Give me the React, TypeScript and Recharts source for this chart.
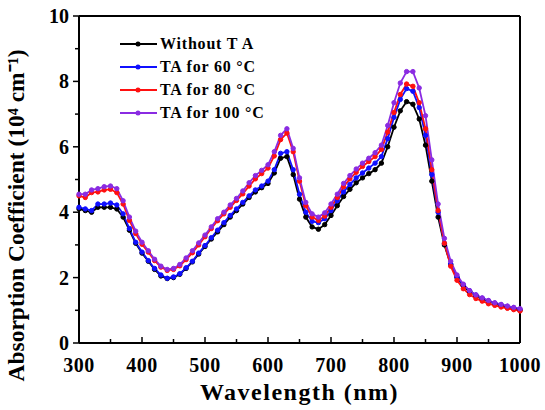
import { LineChart, Line, XAxis, YAxis, ReferenceLine } from "recharts";

const wavelengths = [
	300, 310, 320, 330, 340, 350, 360, 370, 380, 390, 400, 410, 420, 430, 440, 450, 460, 470, 480, 490, 500, 510, 520,
	530, 540, 550, 560, 570, 580, 590, 600, 610, 620, 630, 640, 650, 660, 670, 680, 690, 700, 710, 720, 730, 740, 750,
	760, 770, 780, 790, 800, 810, 820, 830, 840, 850, 860, 870, 880, 890, 900, 910, 920, 930, 940, 950, 960, 970, 980,
	990, 1000,
];

const withoutTA = [
	4.1, 4.05, 4.0, 4.15, 4.15, 4.15, 4.1, 3.85, 3.45, 3.05, 2.75, 2.5, 2.25, 2.05, 1.97, 2.0, 2.1, 2.28, 2.48, 2.72, 2.95,
	3.18, 3.4, 3.62, 3.85, 4.05, 4.25, 4.45, 4.62, 4.75, 4.88, 5.2, 5.65, 5.7, 5.15, 4.4, 3.85, 3.55, 3.48, 3.62, 3.9, 4.2,
	4.48, 4.7, 4.9, 5.05, 5.18, 5.3, 5.5, 6.0, 6.6, 7.1, 7.38, 7.3, 6.85, 6.05, 4.95, 3.85, 3.0, 2.4, 2.0, 1.75, 1.57,
	1.45, 1.35, 1.27, 1.2, 1.15, 1.1, 1.05, 1.0,
];

const ta60 = [
	4.15, 4.1, 4.05, 4.25, 4.25, 4.28, 4.22, 3.95, 3.5, 3.08, 2.78, 2.52, 2.28, 2.08, 1.98, 2.02, 2.12, 2.3, 2.5, 2.75,
	2.98, 3.22, 3.45, 3.68, 3.9, 4.1, 4.3, 4.5, 4.68, 4.8, 4.95, 5.3, 5.8, 5.85, 5.3, 4.55, 4.0, 3.72, 3.68, 3.8, 4.05,
	4.35, 4.62, 4.85, 5.05, 5.2, 5.35, 5.5, 5.7, 6.25, 6.9, 7.45, 7.78, 7.7, 7.2, 6.35, 5.15, 4.0, 3.05, 2.42, 2.02, 1.78,
	1.6, 1.47, 1.37, 1.29, 1.22, 1.17, 1.12, 1.08, 1.03,
];

const ta80 = [
	4.5, 4.45, 4.6, 4.62, 4.68, 4.7, 4.6, 4.25, 3.75, 3.35, 3.02, 2.78, 2.52, 2.32, 2.22, 2.25, 2.36, 2.55, 2.76, 3.0,
	3.25, 3.5, 3.74, 3.95, 4.15, 4.36, 4.56, 4.8, 5.02, 5.18, 5.35, 5.72, 6.22, 6.42, 5.85, 4.95, 4.2, 3.85, 3.75, 3.88,
	4.15, 4.45, 4.78, 5.02, 5.22, 5.4, 5.55, 5.7, 5.92, 6.45, 7.05, 7.6, 7.92, 7.85, 7.35, 6.55, 5.3, 4.05, 3.05, 2.35,
	1.92, 1.66, 1.48, 1.36, 1.28, 1.2, 1.15, 1.1, 1.06, 1.02, 0.98,
];

const ta100 = [
	4.55, 4.55, 4.68, 4.72, 4.78, 4.8, 4.72, 4.35, 3.85, 3.42, 3.08, 2.82, 2.56, 2.35, 2.25, 2.28, 2.4, 2.6, 2.82, 3.06,
	3.3, 3.55, 3.8, 4.0, 4.22, 4.42, 4.65, 4.9, 5.12, 5.28, 5.45, 5.85, 6.35, 6.55, 5.95, 5.05, 4.3, 3.95, 3.85, 3.98,
	4.25, 4.55, 4.88, 5.12, 5.32, 5.5, 5.65, 5.82, 6.05, 6.65, 7.35, 7.95, 8.3, 8.3, 7.8, 6.95, 5.6, 4.25, 3.2, 2.5, 2.08,
	1.8, 1.6, 1.47, 1.38, 1.3, 1.23, 1.18, 1.13, 1.09, 1.05,
];

const xTicks = [300, 350, 400, 450, 500, 550, 600, 650, 700, 750, 800, 850, 900, 950, 1000];
const yTicks = [0, 1, 2, 3, 4, 5, 6, 7, 8, 9, 10];

const SERIES = [
	{ key: "noTA", name: "Without T A", color: "#000000", values: withoutTA },
	{ key: "ta60", name: "TA for 60 °C", color: "#1010ff", values: ta60 },
	{ key: "ta80", name: "TA for 80 °C", color: "#ff1010", values: ta80 },
	{ key: "ta100", name: "TA for 100 °C", color: "#8a2be2", values: ta100 },
];

const data = wavelengths.map((w, i) => {
	const row: Record<string, number> = { w };
	for (const s of SERIES) row[s.key] = s.values[i];
	return row;
});

const FONT = "'Liberation Serif', 'Times New Roman', serif";

function XTick(props: any) {
	const { x, y, payload } = props;
	const major = payload.value % 100 === 0;
	return (
		<g>
			<line x1={x} x2={x} y1={y} y2={y - (major ? 6 : 4)} stroke="#000" strokeWidth={1.5} />
			{major && (
				<text
					x={x}
					y={y + 29}
					textAnchor="middle"
					fontFamily={FONT}
					fontWeight="bold"
					fontSize={20}
					letterSpacing={0.5}
					fill="#000"
				>
					{payload.value}
				</text>
			)}
		</g>
	);
}

function YTick(props: any) {
	const { x, y, payload } = props;
	const major = payload.value % 2 === 0;
	return (
		<g>
			<line x1={x} x2={x - (major ? 6 : 4)} y1={y} y2={y} stroke="#000" strokeWidth={1.5} />
			{major && (
				<text x={x - 10} y={y + 7} textAnchor="end" fontFamily={FONT} fontWeight="bold" fontSize={20} fill="#000">
					{payload.value}
				</text>
			)}
		</g>
	);
}

// y label sits a bit below the plot centre in the original
function YLabel(props: any) {
	const { viewBox } = props;
	const cx = viewBox.x + 24;
	const cy = viewBox.y + viewBox.height / 2 + 36;
	return (
		<text
			x={cx}
			y={cy}
			transform={`rotate(-90, ${cx}, ${cy})`}
			textAnchor="middle"
			fontFamily={FONT}
			fontWeight="bold"
			fontSize={23.5}
			fill="#000"
		>
			Absorption Coefficient (10⁴ cm⁻¹)
		</text>
	);
}

function LegendBox() {
	return (
		<div
			style={{
				position: "absolute",
				left: 120,
				top: 32,
				fontFamily: FONT,
				fontWeight: "bold",
				fontSize: 16,
				letterSpacing: 0.8,
				lineHeight: "23px",
			}}
		>
			{SERIES.map((s) => (
				<div key={s.key} style={{ display: "flex", alignItems: "center" }}>
					<svg width={40} height={10}>
						<line x1={0} x2={37} y1={5} y2={5} stroke={s.color} strokeWidth={2} />
						<circle cx={18} cy={5} r={2.5} fill={s.color} />
					</svg>
					<span>{s.name}</span>
				</div>
			))}
		</div>
	);
}

export default function App() {
	return (
		<div style={{ position: "absolute", left: 0, top: 0, width: 545, height: 410, background: "#fff" }}>
			<LineChart width={545} height={410} data={data} margin={{ top: 16, right: 25, left: 0, bottom: 0 }}>
				<XAxis
					dataKey="w"
					type="number"
					domain={[300, 1000]}
					ticks={xTicks}
					interval={0}
					tick={<XTick />}
					tickLine={false}
					tickSize={0}
					tickMargin={0}
					height={67}
					axisLine={{ stroke: "#000", strokeWidth: 2 }}
					label={{
						value: "Wavelength (nm)",
						position: "insideBottom",
						offset: 10,
						fontFamily: FONT,
						fontWeight: "bold",
						fontSize: 24,
						letterSpacing: 1.5,
						fill: "#000",
					}}
				/>
				<YAxis
					type="number"
					domain={[0, 10]}
					ticks={yTicks}
					interval={0}
					tick={<YTick />}
					tickLine={false}
					tickSize={0}
					tickMargin={0}
					width={79}
					axisLine={{ stroke: "#000", strokeWidth: 2 }}
					label={<YLabel />}
				/>
				<ReferenceLine y={10} stroke="#000" strokeWidth={2} />
				<ReferenceLine x={1000} stroke="#000" strokeWidth={2} />
				{SERIES.map((s) => (
					<Line
						key={s.key}
						dataKey={s.key}
						name={s.name}
						stroke={s.color}
						strokeWidth={1.8}
						dot={{ r: 2.2, fill: s.color, stroke: s.color, strokeWidth: 1 }}
						isAnimationActive={false}
					/>
				))}
			</LineChart>
			<LegendBox />
		</div>
	);
}
